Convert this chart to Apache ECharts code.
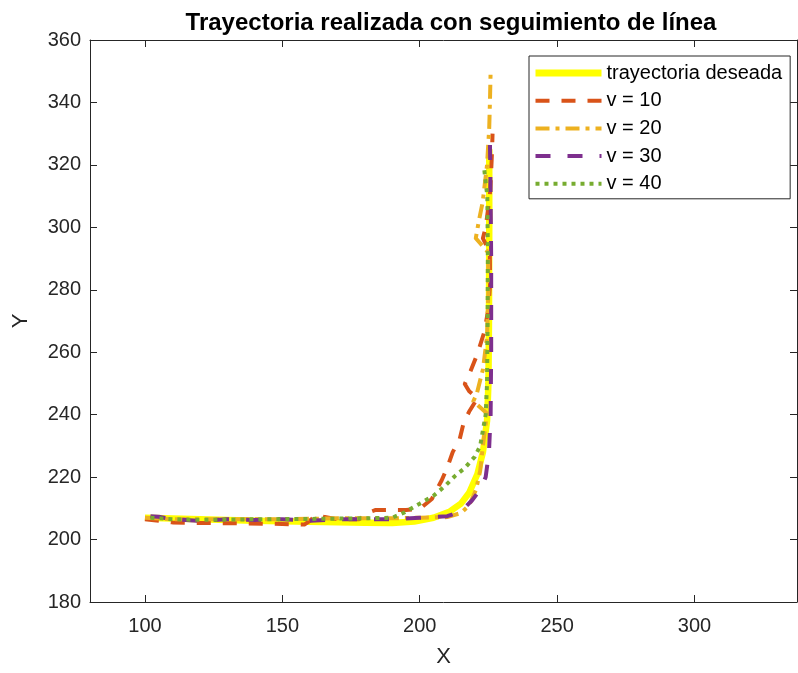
<!DOCTYPE html>
<html>
<head>
<meta charset="utf-8">
<script src="https://cdn.jsdelivr.net/npm/echarts@6/dist/echarts.min.js"></script>
<style>
  html, body { margin: 0; padding: 0; background: #fff; }
  #chart { width: 798px; height: 673px; }
</style>
</head>
<body>
<div id="chart"></div>
<script>
// Series names and axis ticks
const seriesNames = ['trayectoria deseada', 'v = 10', 'v = 20', 'v = 30', 'v = 40'];
const xTicks = [100, 150, 200, 250, 300];

// Desired path [x, y]
const deseada = [
  [100, 207], [120, 206.5], [140, 206], [160, 205.7], [180, 205.4], [190, 205.3],
  [198, 205.8], [205, 207], [211, 209], [215, 211.5], [218, 215], [221, 221],
  [223, 228], [224.5, 238], [225, 250], [225.2, 270], [225.3, 300], [225.3, 325]
];

// Measured path at v = 10
const v10 = [
  [100, 206.5], [105, 206], [110, 205.5], [120, 205.3], [135, 205.2], [150, 205],
  [158, 204.8], [160, 206], [162.5, 208], [165, 207.3], [170, 206.5], [178, 206.5],
  [181, 208.5], [184, 209.5], [195, 209.5], [200, 209.8], [204.4, 213], [208, 219],
  [210, 223], [212, 228], [214.5, 232], [216, 237.5], [218, 241], [221, 245.3],
  [218, 247.5], [216.4, 249.8], [218.5, 254], [221, 259.5], [223.5, 266.5],
  [225, 274], [225.6, 282], [225.5, 292], [223, 296.5], [224, 300], [225.5, 310],
  [226, 318], [226.3, 324], [226.5, 330]
];

// Measured path at v = 20
const v20 = [
  [100, 207], [110, 206.5], [130, 206.5], [150, 206.5], [170, 206.8], [190, 206.8],
  [200, 207], [210, 207.2], [215, 208.5], [218, 211], [220.5, 216], [222, 222],
  [223, 230], [224, 237], [224.3, 240.5], [219.5, 244.3], [220.7, 246.5],
  [223, 254.5], [224.5, 265], [225, 280], [224.9, 292], [220.4, 296.5],
  [221.5, 302], [222.9, 308], [224.5, 320], [225.3, 332], [225.6, 342], [225.8, 350]
];

// Measured path at v = 30
const v30 = [
  [102, 207.5], [105, 207.3], [110, 206.5], [120, 206], [130, 206.5], [140, 206.3],
  [150, 206.5], [160, 206], [170, 206.5], [180, 206.5], [190, 206.5], [200, 207],
  [210, 207.5], [215, 209], [219, 212.5], [222, 216], [224, 220], [225.2, 228],
  [225.8, 240], [226, 260], [226, 290], [225.8, 310], [225.5, 331]
];

// Measured path at v = 40
const v40 = [
  [102, 207], [110, 206.5], [120, 206.3], [140, 206.5], [160, 206.6], [180, 206.8],
  [190, 207], [194, 208.5], [200, 211.5], [205, 214], [209, 217], [213, 220.5],
  [216.5, 223], [220, 226.5], [222, 230], [223, 235], [224, 240], [224.5, 250],
  [224.7, 270], [224.8, 290], [224.6, 310], [223.8, 316], [223.5, 318.5]
];

const seriesData = [deseada, v10, v20, v30, v40];
const colors = ['#FFFF00', '#D95319', '#EDB120', '#7E2F8E', '#77AC30'];
const widths = [6.5, 4, 4, 4, 4];
const dashes = ['solid', [14, 12], [14, 6, 4, 6], [15, 17], [4, 5]];

const FONT = 'Liberation Sans, Arial, Helvetica, sans-serif';
const AX = '#262626';

const chart = echarts.init(document.getElementById('chart'), null, { renderer: 'canvas' });

const frameAxis = {
  type: 'value',
  axisLine: { show: true, lineStyle: { color: AX, width: 1 } },
  axisTick: { show: true, inside: true, length: 7, lineStyle: { color: AX } },
  splitLine: { show: false }
};

chart.setOption({
  animation: false,
  backgroundColor: '#fff',
  title: {
    text: 'Trayectoria realizada con seguimiento de línea',
    left: 446,
    top: 6,
    textAlign: 'center',
    textStyle: { fontFamily: FONT, fontSize: 24, fontWeight: 'bold', color: '#000' }
  },
  grid: { left: 90, top: 40, width: 707, height: 563 },
  legend: {
    left: 529,
    top: 56,
    orient: 'vertical',
    padding: [7, 8, 5, 3],
    itemGap: 7.7,
    itemWidth: 66,
    itemHeight: 20,
    borderColor: AX,
    borderWidth: 1,
    backgroundColor: '#fff',
    textStyle: { fontFamily: FONT, fontSize: 20, color: '#000', lineHeight: 20 },
    data: seriesNames.map((n, i) => ({
      name: n,
      itemStyle: { opacity: 0 },
      lineStyle: { width: widths[i] + (i === 0 ? 0.5 : 0), type: dashes[i], color: colors[i] }
    }))
  },
  xAxis: [
    Object.assign({}, frameAxis, {
      min: 80, max: 337.3, position: 'bottom',
      name: 'X', nameLocation: 'middle', nameGap: 44,
      nameTextStyle: { fontFamily: FONT, fontSize: 22, color: AX },
      axisTick: { show: true, inside: true, length: 7, lineStyle: { color: AX }, customValues: xTicks },
      axisLabel: { fontFamily: FONT, fontSize: 20, color: AX, margin: 14, customValues: xTicks }
    }),
    Object.assign({}, frameAxis, {
      min: 80, max: 337.3, position: 'top',
      axisTick: { show: true, inside: true, length: 7, lineStyle: { color: AX }, customValues: xTicks },
      axisLabel: { show: false }
    })
  ],
  yAxis: [
    Object.assign({}, frameAxis, {
      min: 180, max: 360, interval: 20, position: 'left',
      name: 'Y', nameLocation: 'middle', nameGap: 58,
      nameTextStyle: { fontFamily: FONT, fontSize: 22, color: AX },
      axisLabel: { fontFamily: FONT, fontSize: 20, color: AX, margin: 9 }
    }),
    Object.assign({}, frameAxis, {
      min: 180, max: 360, interval: 20, position: 'right',
      axisLabel: { show: false }
    })
  ],
  series: seriesNames.map((n, i) => ({
    name: n,
    type: 'line',
    xAxisIndex: 0,
    yAxisIndex: 0,
    data: seriesData[i],
    symbol: 'none',
    showSymbol: false,
    smooth: false,
    z: 2 + i,
    lineStyle: { color: colors[i], width: widths[i], type: dashes[i], cap: 'butt', join: 'round' },
    itemStyle: { color: colors[i] }
  }))
});
</script>
</body>
</html>
